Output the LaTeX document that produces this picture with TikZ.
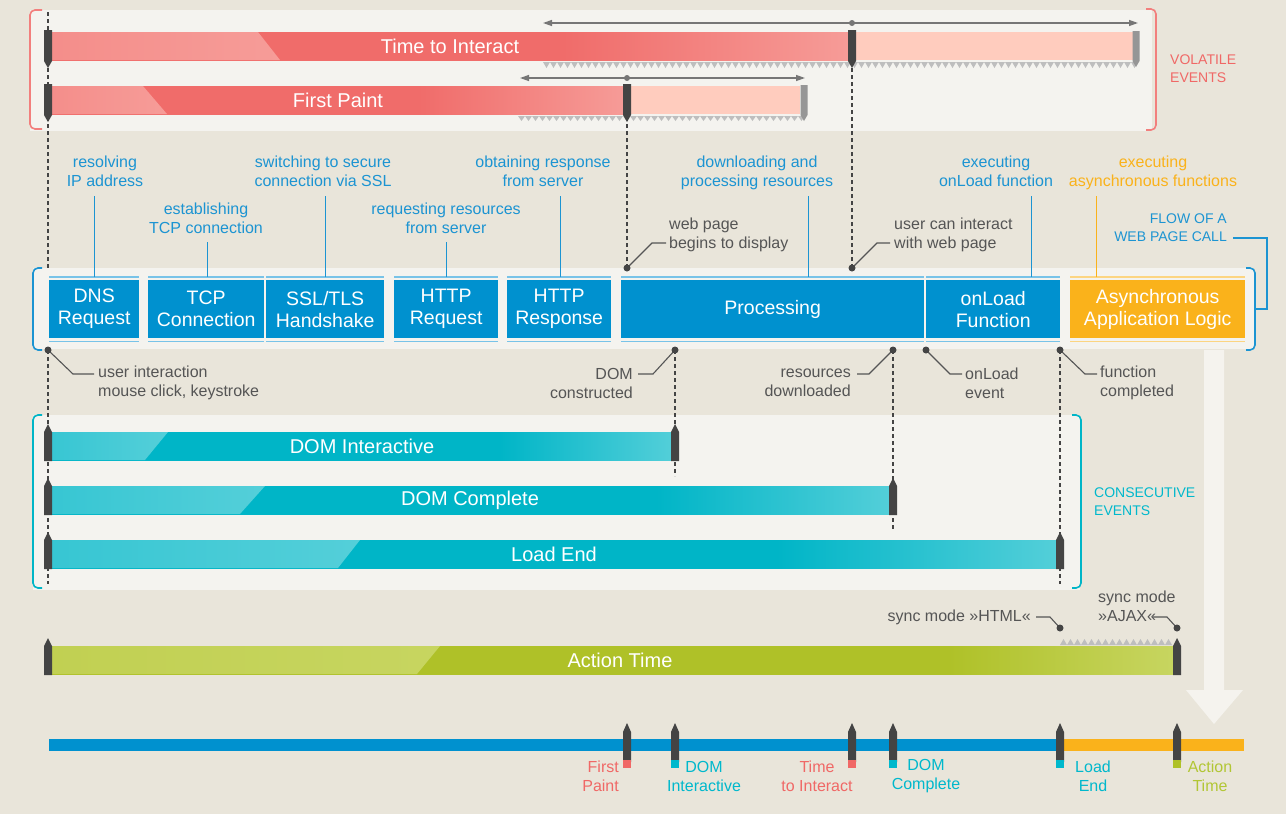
\documentclass[tikz,border=0pt]{standalone}
\usepackage{fontspec}
\setmainfont{Liberation Sans}
\usetikzlibrary{arrows.meta}

\definecolor{paper}{RGB}{233,229,218}
\definecolor{panel}{RGB}{244,243,239}
\definecolor{redbar}{RGB}{240,108,106}
\definecolor{redlight}{RGB}{246,156,152}
\definecolor{redpale}{RGB}{255,204,190}
\definecolor{cyanbar}{RGB}{0,181,199}
\definecolor{cyanlight}{RGB}{84,207,217}
\definecolor{greenbar}{RGB}{175,193,40}
\definecolor{greenlight}{RGB}{199,213,96}
\definecolor{boxblue}{RGB}{0,145,207}
\definecolor{stripeblue}{RGB}{120,195,232}
\definecolor{asyncorange}{RGB}{250,178,27}
\definecolor{textblue}{RGB}{28,148,210}
\definecolor{textgrey}{RGB}{85,85,85}
\definecolor{textred}{RGB}{240,104,102}
\definecolor{textcyan}{RGB}{0,184,204}
\definecolor{textgreen}{RGB}{178,198,52}
\definecolor{markgrey}{RGB}{68,68,68}
\definecolor{endgrey}{RGB}{150,150,150}
\definecolor{rangegrey}{RGB}{118,118,118}
\definecolor{toothgrey}{RGB}{190,190,190}

% bar fades towards the right end (the bar spans 25bp..75bp)
\pgfdeclarehorizontalshading{redfade}{100bp}{color(0bp)=(redbar); color(57bp)=(redbar); color(75bp)=(redlight); color(100bp)=(redlight)}
\pgfdeclarehorizontalshading{cyanfade}{100bp}{color(0bp)=(cyanbar); color(61bp)=(cyanbar); color(75bp)=(cyanlight); color(100bp)=(cyanlight)}
\pgfdeclarehorizontalshading{greenfade}{100bp}{color(0bp)=(greenbar); color(65bp)=(greenbar); color(75bp)=(greenlight); color(100bp)=(greenlight)}

\begin{document}
\begin{tikzpicture}[x=1pt,y=-1pt,
    small/.style={font=\fontsize{16}{19}\selectfont, inner sep=0pt, align=center},
    caps/.style={font=\fontsize{14}{18}\selectfont, inner sep=0pt},
    barlabel/.style={font=\fontsize{20}{24}\selectfont, text=white, inner sep=0pt},
    procbox/.style={font=\fontsize{19.5}{22}\selectfont, text=white, fill=boxblue,
        inner sep=0pt, align=center, minimum height=58pt, anchor=north west},
    stripe/.style={draw=stripeblue, line width=1.2pt},
    lead/.style={draw=textblue, line width=1.3pt},
    greylead/.style={draw=textgrey, line width=1.1pt},
    dashline/.style={draw=markgrey, line width=1.2pt, dash pattern=on 4pt off 3pt},
    spanline/.style={draw=rangegrey, line width=1.3pt, >={Triangle[length=9pt,width=6pt]}, <->},
    bracket/.style={line width=1.6pt, rounded corners=5pt},
  ]
  \useasboundingbox (0,0) rectangle (1286,814);
  \fill[paper] (0,0) rectangle (1286,814);

  % Panels
  \fill[panel] (30,10) rectangle (1152,131);
  \fill[panel] (33,268) rectangle (1254,349);
  \fill[panel] (33,415) rectangle (1080,590);

  % Big arrow down to the time line
  \fill[white, opacity=0.55] (1204,350) -- (1224,350) -- (1224,690) -- (1243,690)
      -- (1214,724) -- (1186,690) -- (1204,690) -- cycle;

  % Brackets
  \draw[bracket, draw=textred!85] (42,10) -| (30,129) -- (42,129);
  \draw[bracket, draw=textred!85] (1146,9) -| (1156,130) -- (1146,130);
  \draw[bracket, draw=textblue] (42,268) -| (33,350) -- (42,350);
  \draw[bracket, draw=textblue] (1246,268) -| (1255,350) -- (1246,350);
  \draw[bracket, draw=cyanbar] (42,415) -| (33,588) -- (42,588);
  \draw[bracket, draw=cyanbar] (1072,415) -| (1081,588) -- (1072,588);

  % Event points
  \coordinate (dWeb) at (627,268);
  \coordinate (dUser) at (852,268);
  \coordinate (dClick) at (48,350);
  \coordinate (dDom) at (675,350);
  \coordinate (dRes) at (893,350);
  \coordinate (dEvt) at (926,350);
  \coordinate (dDone) at (1060,350);
  \coordinate (dHtml) at (1060,628);
  \coordinate (dAjax) at (1177,628);

  % Dashed guides
  \draw[dashline] (48,12) -- (48,268);
  \draw[dashline] (dClick) -- ++(0,234);
  \draw[dashline] (dWeb) -- ++(0,-148);
  \draw[dashline] (dUser) -- ++(0,-202);
  \draw[dashline] (dDom) -- ++(0,126);
  \draw[dashline] (dRes) -- ++(0,179);
  \draw[dashline] (dDone) -- ++(0,234);

  % Time to Interact
  \shade[shading=redfade] (48,32) rectangle (852,60);
  \shade[left color=redlight!70!redbar, right color=redlight] (48,32) -- (258,32) -- (280,60) -- (48,60) -- cycle;
  \fill[redpale] (856,32) rectangle (1133,60);
  \foreach \x in {543,550,...,1133}
    \fill[toothgrey] (\x,62) -- (\x+7,62) -- (\x+3.5,68) -- cycle;

  % First Paint
  \shade[shading=redfade] (48,86) rectangle (627,114);
  \shade[left color=redlight!70!redbar, right color=redlight] (48,86) -- (143,86) -- (167,114) -- (48,114) -- cycle;
  \fill[redpale] (631,86) rectangle (800,114);
  \foreach \x in {518,525,...,801}
    \fill[toothgrey] (\x,116) -- (\x+7,116) -- (\x+3.5,121) -- cycle;

  % Volatile markers
  \foreach \x/\t/\b in {48/30/61, 852/30/61, 48/84/115, 627/84/115}
    \fill[markgrey] (\x-4,\t) -- (\x+4,\t) -- (\x+4,\b) -- (\x,\b+7) -- (\x-4,\b) -- cycle;
  \foreach \x/\t/\b in {1136/31/61, 804/85/115}
    \fill[endgrey] (\x-3.5,\t) -- (\x+3.5,\t) -- (\x+3.5,\b) -- (\x,\b+6) -- (\x-3.5,\b) -- cycle;

  % Ranges
  \coordinate (ttiL) at (543,23);
  \coordinate (ttiR) at (1138,23);
  \coordinate (fpL) at (520,78);
  \coordinate (fpR) at (805,78);
  \draw[spanline] (ttiL) -- (ttiR);
  \draw[spanline] (fpL) -- (fpR);
  \fill[rangegrey] (852,23) circle (3pt);
  \fill[rangegrey] (627,78) circle (3pt);

  \node[barlabel] (tti) at (450,46) {Time to Interact};
  \node[barlabel] (fp) at (338,100) {First Paint};
  \node[caps, text=textred, align=left, anchor=west] (volatile) at (1170,69) {VOLATILE\\EVENTS};

  % Flow of a web page call
  \node[procbox, minimum width=90pt] (dns) at (49,280) {DNS\\Request};
  \node[procbox, minimum width=116pt] (tcp) at (148,280) {TCP\\Connection};
  \node[procbox, minimum width=118pt] (ssl) at (266,280) {SSL/TLS\\Handshake};
  \node[procbox, minimum width=104pt] (hreq) at (394,280) {HTTP\\Request};
  \node[procbox, minimum width=104pt] (hresp) at (507,280) {HTTP\\Response};
  \node[procbox, minimum width=303pt] (proc) at (621,280) {Processing};
  \node[procbox, minimum width=134pt] (onl) at (926,280) {onLoad\\Function};
  \node[procbox, minimum width=175pt, fill=asyncorange] (async) at (1070,280) {Asynchronous\\Application Logic};
  \foreach \n in {dns,tcp,ssl,hreq,hresp,proc,onl}
    \draw[stripe] ([yshift=3pt]\n.north west) -- ([yshift=3pt]\n.north east)
                  ([yshift=-3pt]\n.south west) -- ([yshift=-3pt]\n.south east);
  \draw[stripe, draw=asyncorange!55] ([yshift=3pt]async.north west) -- ([yshift=3pt]async.north east)
                  ([yshift=-3pt]async.south west) -- ([yshift=-3pt]async.south east);

  \node[small, text=textblue] (tDNS) at (105,171) {resolving\\IP address};
  \node[small, text=textblue] (tTCP) at (206,218) {establishing\\TCP connection};
  \node[small, text=textblue] (tSSL) at (323,171) {switching to secure\\connection via SSL};
  \node[small, text=textblue] (tReq) at (446,218) {requesting resources\\from server};
  \node[small, text=textblue] (tResp) at (543,171) {obtaining response\\from server};
  \node[small, text=textblue] (tProc) at (757,173) {downloading and\\processing resources};
  \node[small, text=textblue] (tOnl) at (996,171) {executing\\onLoad function};
  \node[small, text=asyncorange] (tAsync) at (1153,173) {executing\\asynchronous functions};

  \foreach \n/\dx/\y in {dns/0/196, tcp/1/242, ssl/0/196, hreq/0/242, hresp/1/196, proc/36/196, onl/38/196} {
    \coordinate (p\n) at ([xshift=\dx pt, yshift=3pt]\n.north);
    \draw[lead] (p\n) -- (p\n |- 0,\y);
  }
  \coordinate (pasync) at ([xshift=-61pt, yshift=3pt]async.north);
  \draw[lead, draw=asyncorange] (pasync) -- (pasync |- 0,196);

  \node[caps, text=textblue, align=right, anchor=east] (flow) at (1227,228) {FLOW OF A\\WEB PAGE CALL};
  \coordinate (flowend) at (1233,238);
  \coordinate (flowbr) at (1256,309);
  \draw[lead] (flowend) -| (1267,309) -- (flowbr);

  % Annotations
  \node[small, text=textgrey, align=left, anchor=west] (tWeb) at (669,235) {web page\\begins to display};
  \node[small, text=textgrey, align=left, anchor=west] (tUser) at (894,235) {user can interact\\with web page};
  \node[small, text=textgrey, align=left, anchor=west] (tClick) at (98,383) {user interaction\\mouse click, keystroke};
  \node[small, text=textgrey, align=right, anchor=east] (tDom) at (633,383) {DOM\\constructed};
  \node[small, text=textgrey, align=right, anchor=east] (tRes) at (851,383) {resources\\downloaded};
  \node[small, text=textgrey, align=left, anchor=west] (tEvt) at (965,383) {onLoad\\event};
  \node[small, text=textgrey, align=left, anchor=west] (tDone) at (1100,383) {function\\completed};

  \draw[greylead] (dWeb) -- ++(25,-25) -- ++(14,0);
  \draw[greylead] (dUser) -- ++(25,-25) -- ++(13,0);
  \draw[greylead] (dClick) -- ++(25,24) -- ++(21,0);
  \draw[greylead] (dDom) -- ++(-22,24) -- ++(-15,0);
  \draw[greylead] (dRes) -- ++(-24,24) -- ++(-12,0);
  \draw[greylead] (dEvt) -- ++(24,24) -- ++(12,0);
  \draw[greylead] (dDone) -- ++(25,24) -- ++(12,0);

  % Consecutive events
  \foreach \t/\e/\a/\b in {432/675/168/145, 486/893/265/240, 540/1060/360/338} {
    \shade[shading=cyanfade] (48,\t) rectangle (\e,\t+28);
    \shade[left color=cyanlight!65!cyanbar, right color=cyanlight] (48,\t) -- (\a,\t) -- (\b,\t+28) -- (48,\t+28) -- cycle;
  }
  \node[barlabel] (domi) at (362,446) {DOM Interactive};
  \node[barlabel] (domc) at (470,500) {DOM Complete};
  \node[barlabel] (lend) at (554,554) {Load End};
  \node[caps, text=textcyan, align=left, anchor=west] (consec) at (1094,502) {CONSECUTIVE\\EVENTS};

  % Action Time
  \shade[shading=greenfade] (48,646) rectangle (1173,674);
  \shade[left color=greenlight!75!greenbar, right color=greenlight] (48,646) -- (440,646) -- (417,674) -- (48,674) -- cycle;
  \foreach \x in {1060,1067,...,1165}
    \fill[toothgrey] (\x,645) -- (\x+7,645) -- (\x+3.5,639) -- cycle;
  \node[barlabel] (act) at (620,660) {Action Time};

  \node[small, text=textgrey, anchor=east] (tHtml) at (1031,617) {sync mode »HTML«};
  \node[small, text=textgrey, align=left, anchor=west] (tAjax) at (1098,606) {sync mode\\»AJAX«};
  \draw[greylead] (dHtml) -- ++(-10,-11) -- ++(-14,0);
  \draw[greylead] (dAjax) -- ++(-10,-11) -- ++(-14,0);

  % Up markers
  \foreach \x/\t/\b in {48/432/461, 675/432/461, 48/486/515, 893/486/515, 48/540/569, 1060/540/569, 48/646/675, 1177/646/675}
    \fill[markgrey] (\x-4,\b) -- (\x+4,\b) -- (\x+4,\t) -- (\x,\t-8) -- (\x-4,\t) -- cycle;

  \foreach \d in {dWeb,dUser,dClick,dDom,dRes,dEvt,dDone,dHtml,dAjax}
    \fill[markgrey] (\d) circle (3.5pt);

  % Time line
  \fill[boxblue] (49,739) rectangle (1060,751);
  \fill[asyncorange] (1060,739) rectangle (1244,751);
  \foreach \x/\c in {627/textred, 675/textcyan, 852/textred, 893/textcyan, 1060/textcyan, 1177/greenbar} {
    \fill[markgrey] (\x-4,762) -- (\x+4,762) -- (\x+4,732) -- (\x,723) -- (\x-4,732) -- cycle;
    \fill[\c] (\x-4,760) rectangle (\x+4,768);
  }
  \node[small, text=textred, align=right, anchor=east] (lFP) at (619,776) {First\\Paint};
  \node[small, text=textcyan] (lDI) at (704,776) {DOM\\Interactive};
  \node[small, text=textred] (lTI) at (817,776) {Time\\to Interact};
  \node[small, text=textcyan] (lDC) at (926,776) {DOM\\Complete};
  \node[small, text=textcyan] (lLE) at (1093,776) {Load\\End};
  \node[small, text=textgreen] (lAT) at (1210,776) {Action\\Time};
\end{tikzpicture}
\end{document}
